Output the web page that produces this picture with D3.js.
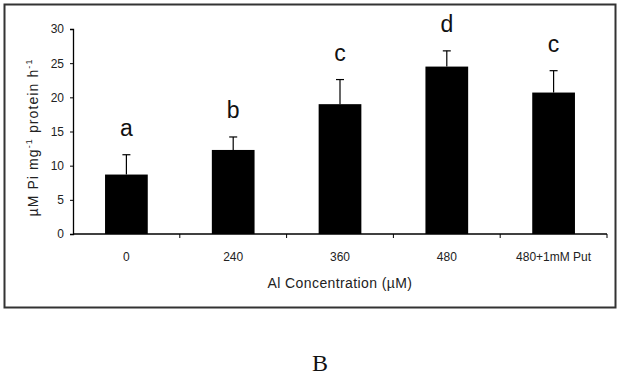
<!DOCTYPE html>
<html>
<head>
<meta charset="utf-8">
<script src="https://cdn.jsdelivr.net/npm/d3@7"></script>
<style>
  body { margin: 0; background: #fff; }
  svg { display: block; }
</style>
</head>
<body>
<svg id="chart" width="621" height="377"></svg>
<script>
const categories = ['0', '240', '360', '480', '480+1mM Put']
const means = [8.7, 12.3, 19.0, 24.5, 20.7]
const errors = [2.9, 1.9, 3.6, 2.3, 3.2]
const letters = ['a', 'b', 'c', 'd', 'c']
const yTicks = [0, 5, 10, 15, 20, 25, 30]

const svg = d3.select('#chart')
const margin = {left: 73, right: 14, top: 29, bottom: 143}
const width = 621, height = 377

// outer frame
svg.append('rect')
  .attr('x', 4.5).attr('y', 4.5)
  .attr('width', 611).attr('height', 303)
  .attr('fill', 'none').attr('stroke', '#333').attr('stroke-width', 2)

const x = d3.scaleBand()
  .domain(categories)
  .range([margin.left, width - margin.right])
  .paddingInner(0.6).paddingOuter(0.3)

const xTicks = d3.scaleBand().domain(categories).range([margin.left, width - margin.right])

const y = d3.scaleLinear().domain([0, 30]).range([height - margin.bottom, margin.top])

const font = 'Arial, "Liberation Sans", sans-serif'

// y axis
const yAxis = svg.append('g')
  .attr('transform', `translate(${margin.left},0)`)
  .call(d3.axisLeft(y).tickValues(yTicks).tickSize(3).tickPadding(6))
yAxis.select('.domain').attr('stroke', '#000').attr('stroke-width', 1.3)
yAxis.selectAll('text').attr('font-family', font).attr('font-size', 12).attr('fill', '#222')

// x axis, ticks on band edges
const xAxis = svg.append('g')
  .attr('transform', `translate(0,${y(0)})`)
xAxis.append('line')
  .attr('x1', margin.left).attr('x2', width - margin.right)
  .attr('stroke', '#000').attr('stroke-width', 1.3)
xAxis.selectAll('.edge')
  .data(categories)
  .join('line')
  .attr('x1', d => xTicks(d) + xTicks.bandwidth())
  .attr('x2', d => xTicks(d) + xTicks.bandwidth())
  .attr('y1', 0).attr('y2', 4)
  .attr('stroke', '#000')
xAxis.selectAll('.cat')
  .data(categories)
  .join('text')
  .attr('x', d => xTicks(d) + xTicks.bandwidth() / 2)
  .attr('y', 27)
  .attr('text-anchor', 'middle')
  .attr('font-family', font).attr('font-size', 12).attr('fill', '#222')
  .text(d => d)

// bars
svg.selectAll('.bar')
  .data(means)
  .join('rect')
  .attr('x', (d, i) => x(categories[i]))
  .attr('y', d => y(d))
  .attr('width', x.bandwidth())
  .attr('height', d => y(0) - y(d))
  .attr('fill', '#000')

// error bars
const eb = svg.selectAll('.err')
  .data(means)
  .join('g')
  .attr('transform', (d, i) => `translate(${x(categories[i]) + x.bandwidth() / 2},0)`)
eb.append('line')
  .attr('y1', d => y(d)).attr('y2', (d, i) => y(d + errors[i]))
  .attr('stroke', '#000').attr('stroke-width', 1.2)
eb.append('line')
  .attr('x1', -4).attr('x2', 4)
  .attr('y1', (d, i) => y(d + errors[i])).attr('y2', (d, i) => y(d + errors[i]))
  .attr('stroke', '#000').attr('stroke-width', 1.2)

// significance letters
svg.selectAll('.letter')
  .data(means)
  .join('text')
  .attr('x', (d, i) => x(categories[i]) + x.bandwidth() / 2)
  .attr('y', (d, i) => y(d + errors[i]) - 19)
  .attr('text-anchor', 'middle')
  .attr('font-family', font).attr('font-size', 23).attr('fill', '#111')
  .text((d, i) => letters[i])

// axis titles
svg.append('text')
  .attr('x', 340).attr('y', 288)
  .attr('text-anchor', 'middle')
  .attr('font-family', font).attr('font-size', 14).attr('letter-spacing', 0.4).attr('fill', '#222')
  .text('Al Concentration (µM)')

const yt = svg.append('text')
  .attr('transform', `translate(38,${(y(0) + y(30)) / 2 + 6}) rotate(-90)`)
  .attr('text-anchor', 'middle')
  .attr('font-family', font).attr('font-size', 14).attr('letter-spacing', 1.1).attr('fill', '#222')
yt.append('tspan').text('µM Pi mg')
yt.append('tspan').attr('dy', -6).attr('font-size', 9).text('-1')
yt.append('tspan').attr('dy', 6).text(' protein h')
yt.append('tspan').attr('dy', -6).attr('font-size', 9).text('-1')

// panel label
svg.append('text')
  .attr('x', 320).attr('y', 371)
  .attr('text-anchor', 'middle')
  .attr('font-family', '"Liberation Serif", "Times New Roman", serif')
  .attr('font-size', 24).attr('fill', '#111')
  .text('B')
</script>
</body>
</html>
